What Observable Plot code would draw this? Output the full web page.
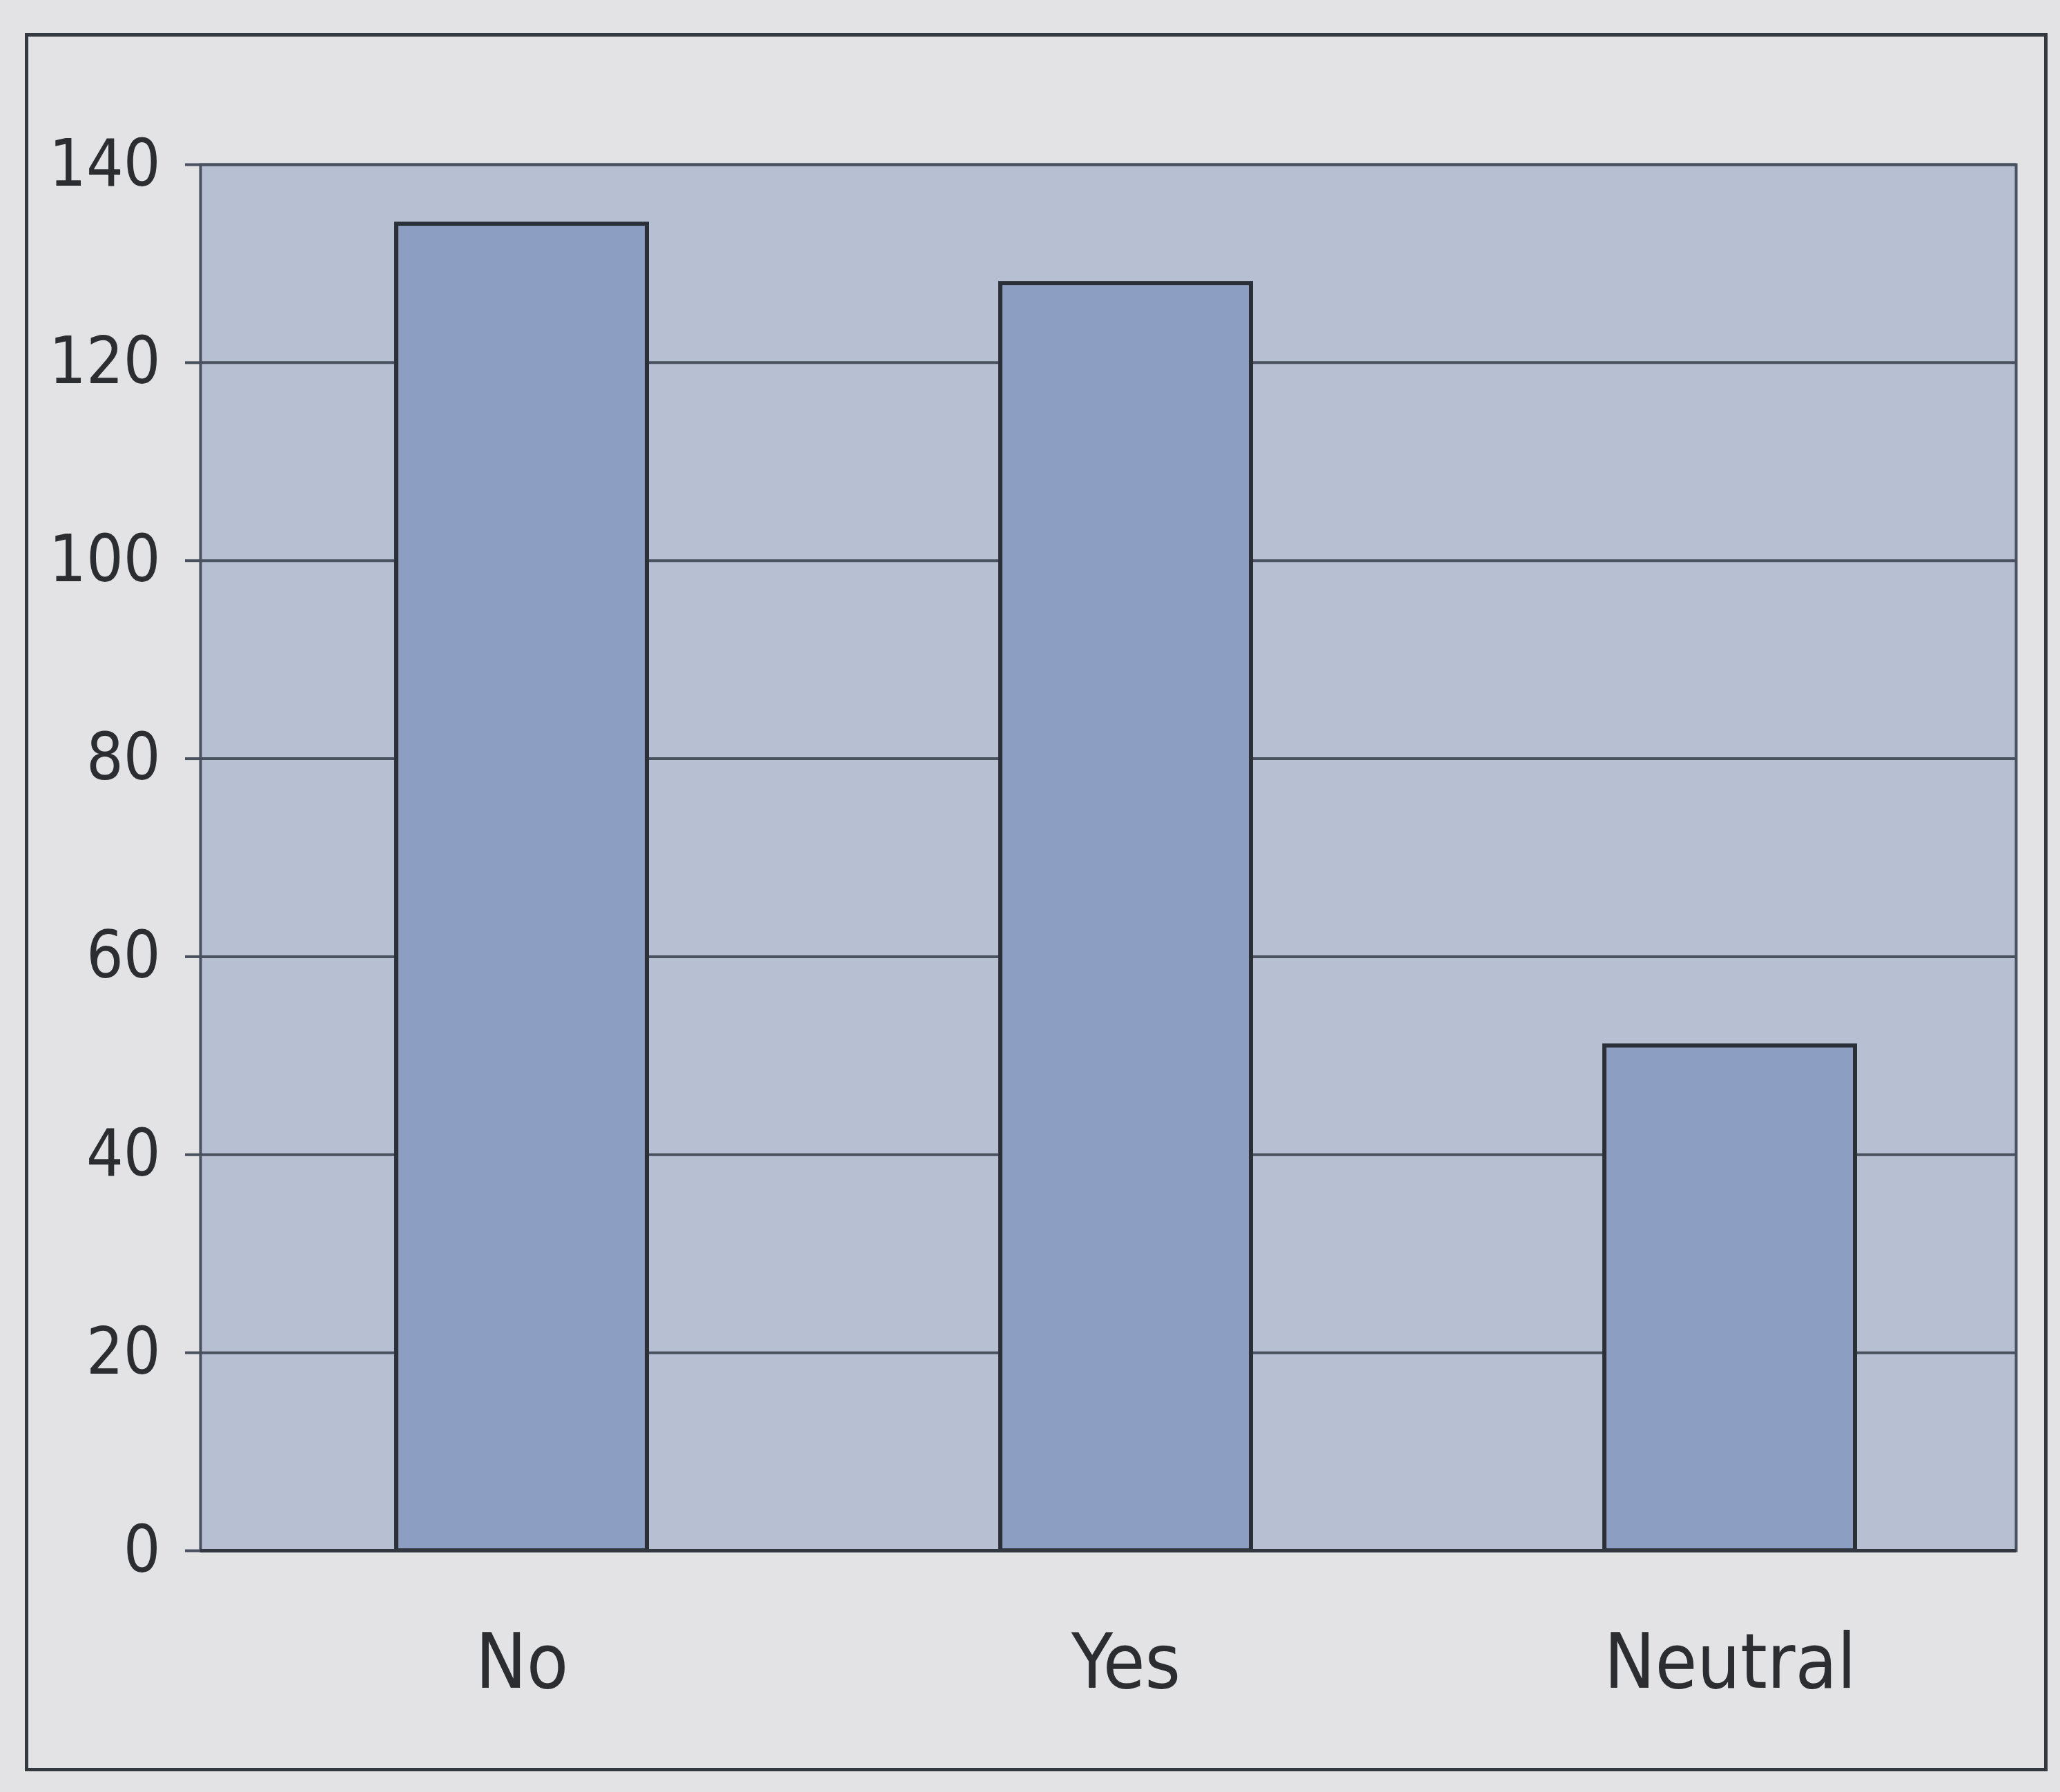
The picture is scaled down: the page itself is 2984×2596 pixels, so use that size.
<!DOCTYPE html>
<html>
<head>
<meta charset="utf-8">
<script src="https://cdn.jsdelivr.net/npm/d3@7"></script>
<script src="https://cdn.jsdelivr.net/npm/@observablehq/plot@0.6"></script>
<style>
  html, body { margin: 0; padding: 0; background: #e3e3e5; }
  #wrap { position: relative; width: 2984px; height: 2596px; overflow: hidden; }
  #frame { position: absolute; left: 36px; top: 48px; width: 2920px; height: 2508px;
           border: 5px solid #34383f; pointer-events: none; }
  #chart { position: absolute; left: 0; top: 0; }
</style>
</head>
<body>
<div id="wrap">
  <div id="chart"></div>
  <div id="frame"></div>
</div>
<script>
const categories = ["No", "Yes", "Neutral"];
const counts = [134, 128, 51];
const yTicks = [0, 20, 40, 60, 80, 100, 120, 140];

const data = categories.map((c, i) => ({category: c, count: counts[i]}));

const chart = Plot.plot({
  width: 2984,
  height: 2596,
  marginLeft: 290,
  marginRight: 64,
  marginTop: 238,
  marginBottom: 350,
  style: {
    fontFamily: "'DejaVu Sans Condensed', 'Liberation Sans Narrow', 'Liberation Sans', Arial, sans-serif",
    background: "transparent",
    color: "#2b2d31"
  },
  x: {domain: categories, paddingInner: 0.585, paddingOuter: 0.295, align: 0.55, label: null},
  y: {domain: [0, 140], label: null},
  marks: [
    Plot.frame({fill: "#b7bfd3", stroke: "#4a515e", strokeWidth: 4}),
    Plot.gridY(yTicks, {stroke: "#4a515e", strokeOpacity: 1, strokeWidth: 4}),
    Plot.barY(data, {x: "category", y: "count", fill: "#8c9fc2", stroke: "#2b3038", strokeWidth: 6}),
    Plot.axisY(yTicks, {tickSize: 22, tickPadding: 36, fontSize: 94, stroke: "#4a515e", strokeWidth: 4, fill: "#2b2d31"}),
    Plot.axisX({tickSize: 0, tickPadding: 120, fontSize: 110, fill: "#2b2d31"}),
    Plot.ruleY([0], {stroke: "#33373f", strokeWidth: 5})
  ]
});
document.getElementById("chart").appendChild(chart);
</script>
</body>
</html>
